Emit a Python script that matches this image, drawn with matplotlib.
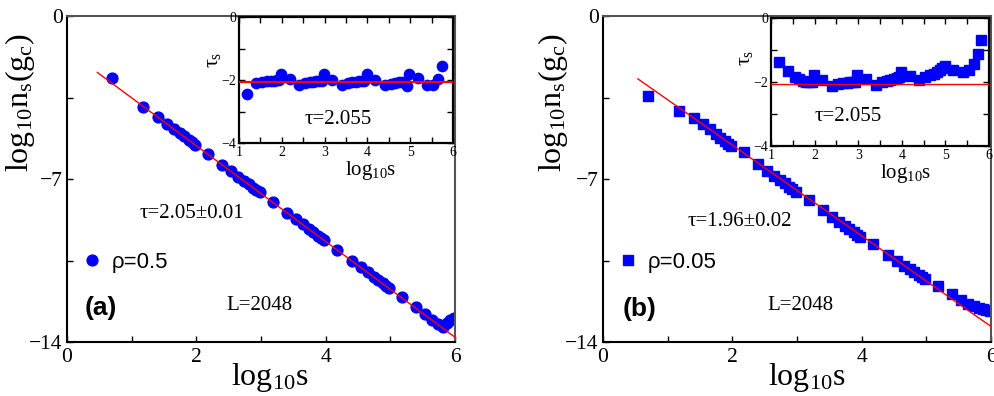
import numpy as np
import matplotlib
matplotlib.use("Agg")
import matplotlib.pyplot as plt
from matplotlib.ticker import MultipleLocator, FixedLocator

plt.rcParams['font.family'] = 'Liberation Serif'
plt.rcParams['mathtext.fontset'] = 'custom'
plt.rcParams['mathtext.rm'] = 'Liberation Serif'
plt.rcParams['mathtext.it'] = 'Liberation Serif'

# ---- panel (a): rho = 0.5 ----
xa = [0.70, 1.18, 1.40, 1.54, 1.65, 1.74, 1.81, 1.88, 1.93, 1.98,
      2.18, 2.40, 2.54, 2.65, 2.74, 2.81, 2.88, 2.93, 2.98,
      3.18, 3.40, 3.54, 3.65, 3.74, 3.81, 3.88, 3.93, 3.98,
      4.18, 4.40, 4.54, 4.65, 4.74, 4.81, 4.88, 4.93, 4.98,
      5.18, 5.40, 5.54, 5.65, 5.74, 5.81, 5.88, 5.93, 5.98]
ya = [-2.65, -3.89, -4.34, -4.62, -4.84, -5.03, -5.17, -5.32, -5.42, -5.52,
      -5.94, -6.39, -6.67, -6.90, -7.08, -7.23, -7.37, -7.47, -7.57,
      -8.00, -8.45, -8.73, -8.95, -9.14, -9.28, -9.43, -9.53, -9.63,
      -10.05, -10.51, -10.79, -11.01, -11.20, -11.34, -11.48, -11.60, -11.69,
      -12.05, -12.49, -12.80, -13.05, -13.22, -13.35, -13.18, -13.05, -12.97]
xa_in = xa[1:42]
ta_in = [-2.46, -2.10, -2.05, -2.04, -2.02, -2.02, -2.01, -2.00, -1.80,
         -1.98, -2.15, -2.08, -2.06, -2.05, -2.04, -2.03, -2.03, -1.82,
         -1.99, -2.17, -2.10, -2.07, -2.05, -2.04, -2.03, -2.02, -1.82,
         -2.00, -2.17, -2.12, -2.08, -2.06, -2.05, -2.08, -2.18, -1.80,
         -1.95, -2.15, -2.15, -1.97, -1.57]

# ---- panel (b): rho = 0.05 ----
xb = xa
yb = [-3.42, -4.06, -4.39, -4.62, -4.86, -5.06, -5.22, -5.38, -5.49, -5.60,
      -5.86, -6.35, -6.64, -6.86, -7.05, -7.19, -7.34, -7.45, -7.56,
      -7.90, -8.35, -8.62, -8.83, -9.01, -9.15, -9.29, -9.40, -9.50,
      -9.80, -10.25, -10.52, -10.72, -10.88, -11.00, -11.13, -11.22, -11.30,
      -11.59, -11.94, -12.18, -12.36, -12.46, -12.54, -12.60, -12.64, -12.66]
xb_in = xb[1:43]
tb_in = [-1.39, -1.65, -1.83, -1.92, -1.97, -1.99, -2.00, -2.00, -1.78,
         -1.94, -2.13, -2.06, -2.04, -2.02, -2.01, -2.00, -2.00, -1.78,
         -1.92, -2.09, -2.00, -1.96, -1.93, -1.90, -1.88, -1.85, -1.68,
         -1.81, -1.94, -1.85, -1.79, -1.74, -1.68, -1.62, -1.55, -1.49,
         -1.62, -1.68, -1.62, -1.45, -1.12, -0.68]

# fitted power laws: log10 n = c - tau * log10 s
fit_a = dict(c=-1.46, tau=2.056, x0=0.47)
fit_b = dict(c=-1.65, tau=1.947, x0=0.54)
tau_inset = 2.055

W, H = 995, 396
fig = plt.figure(figsize=(W / 100, H / 100), dpi=100)

blue = '#0000ff'
red = '#ff0000'
gray = '#555555'


def style_main(ax):
    ax.set_xlim(0, 6)
    ax.set_ylim(-14, 0)
    ax.xaxis.set_major_locator(FixedLocator([0, 2, 4, 6]))
    ax.xaxis.set_minor_locator(FixedLocator([1, 3, 5]))
    ax.yaxis.set_major_locator(FixedLocator([0, -7, -14]))
    ax.yaxis.set_minor_locator(FixedLocator([-3.5, -10.5]))
    ax.tick_params(which='both', direction='in', length=4, width=1.0,
                   top=False, right=False, labelsize=15.5)
    ax.tick_params(axis='y', pad=3)
    ax.tick_params(axis='x', pad=4)
    for s in ['left', 'bottom']:
        ax.spines[s].set_linewidth(1.5)
        ax.spines[s].set_color('black')
    for s in ['top', 'right']:
        ax.spines[s].set_linewidth(1.5)
        ax.spines[s].set_color(gray)
    ax.set_xlabel(r'log$_{\mathrm{10}}$s', fontsize=23)
    ax.set_ylabel(r'log$_{\mathrm{10}}$n$_{\mathrm{s}}$(g$_{\mathrm{c}}$)', fontsize=23)


def style_inset(ax):
    ax.set_xlim(1, 6)
    ax.set_ylim(-4, 0)
    ax.xaxis.set_major_locator(MultipleLocator(1))
    ax.xaxis.set_minor_locator(MultipleLocator(0.5))
    ax.yaxis.set_major_locator(FixedLocator([0, -2, -4]))
    ax.yaxis.set_minor_locator(FixedLocator([-1, -3]))
    ax.tick_params(which='both', direction='in', length=4, width=1.0,
                   top=True, right=True, labelsize=10, pad=2)
    for s in ax.spines.values():
        s.set_linewidth(1.6)
    ax.set_xlabel(r'log$_{\mathrm{10}}$s', fontsize=15)
    ax.set_ylabel(r'$\tau_{\mathrm{s}}$', fontsize=16)


def fit_line(ax, fit):
    xs = np.array([fit['x0'], 6.0])
    ax.plot(xs, fit['c'] - fit['tau'] * xs, color=red, lw=1.0, zorder=3)


# ---------------- panel (a) ----------------
ax1 = fig.add_axes([67 / W, 1 - 342 / H, 388 / W, 326 / H])
ax1.plot(xa, ya, 'o', ms=7.8, color=blue, mec=blue, ls='none', label=r'ρ=0.5', zorder=2)
fit_line(ax1, fit_a)
style_main(ax1)
ax1.xaxis.set_label_coords(0.523, -0.058)
ax1.yaxis.set_label_coords(-0.077, 0.736)
ax1.text(0.188, 0.393, u'τ=2.05±0.01', transform=ax1.transAxes, fontsize=15,
         ha='left', va='center')
ax1.text(0.497, 0.113, 'L=2048', transform=ax1.transAxes, fontsize=15,
         ha='center', va='center')
ax1.text(0.088, 0.104, '(a)', transform=ax1.transAxes, fontsize=19,
         family='Liberation Sans', weight='bold', ha='center', va='center')
ax1.legend(loc='center left', bbox_to_anchor=(0.035, 0.245), frameon=False,
           prop={'family': 'Liberation Sans', 'size': 16}, handlelength=1.0,
           handletextpad=0.4, borderpad=0, borderaxespad=0, numpoints=1)

in1 = fig.add_axes([239 / W, 1 - 143 / H, 214 / W, 126 / H])
in1.plot(xa_in, ta_in, 'o', ms=7.4, color=blue, mec=blue, ls='none', zorder=2)
in1.axhline(-tau_inset, color=red, lw=1.6, zorder=3)
style_inset(in1)
in1.xaxis.set_label_coords(0.617, -0.125)
in1.yaxis.set_label_coords(-0.075, 0.66)
in1.text(0.463, 0.183, u'τ=2.055', transform=in1.transAxes, fontsize=15,
         ha='center', va='center')

# ---------------- panel (b) ----------------
ax2 = fig.add_axes([603 / W, 1 - 342 / H, 388 / W, 326 / H])
ax2.plot(xb, yb, 's', ms=6.7, color=blue, mec=blue, ls='none', label=r'ρ=0.05', zorder=2)
fit_line(ax2, fit_b)
style_main(ax2)
ax2.xaxis.set_label_coords(0.526, -0.058)
ax2.yaxis.set_label_coords(-0.085, 0.736)
ax2.text(0.219, 0.371, u'τ=1.96±0.02', transform=ax2.transAxes, fontsize=15,
         ha='left', va='center')
ax2.text(0.508, 0.113, 'L=2048', transform=ax2.transAxes, fontsize=15,
         ha='center', va='center')
ax2.text(0.095, 0.101, '(b)', transform=ax2.transAxes, fontsize=19,
         family='Liberation Sans', weight='bold', ha='center', va='center')
ax2.legend(loc='center left', bbox_to_anchor=(0.035, 0.245), frameon=False,
           prop={'family': 'Liberation Sans', 'size': 16}, handlelength=1.0,
           handletextpad=0.4, borderpad=0, borderaxespad=0, numpoints=1)

in2 = fig.add_axes([771 / W, 1 - 146 / H, 218 / W, 128 / H])
in2.plot(xb_in, tb_in, 's', ms=6.5, color=blue, mec=blue, ls='none', zorder=2)
in2.axhline(-tau_inset, color=red, lw=1.0, zorder=3)
style_inset(in2)
in2.xaxis.set_label_coords(0.619, -0.123)
in2.yaxis.set_label_coords(-0.073, 0.69)
in2.text(0.353, 0.234, u'τ=2.055', transform=in2.transAxes, fontsize=15,
         ha='center', va='center')

fig.savefig('out.png', dpi=100)
